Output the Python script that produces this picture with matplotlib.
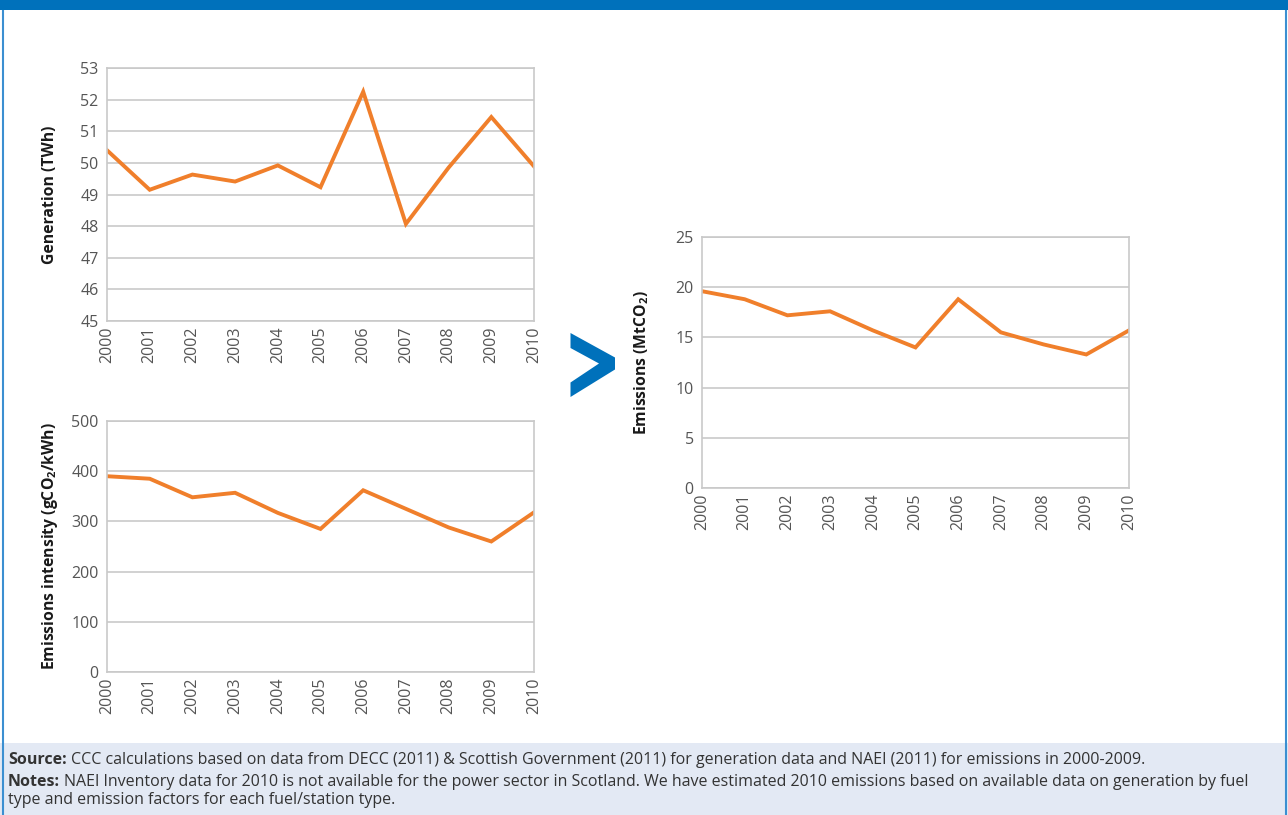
import matplotlib
matplotlib.use("Agg")
import matplotlib.pyplot as plt
from matplotlib.patches import Rectangle, Polygon

plt.rcParams['font.family'] = ['Open Sans', 'DejaVu Sans']
plt.rcParams['mathtext.fontset'] = 'custom'
plt.rcParams['mathtext.rm'] = 'Open Sans'
plt.rcParams['mathtext.bf'] = 'Open Sans:bold'

years = ['2000', '2001', '2002', '2003', '2004', '2005', '2006', '2007', '2008', '2009', '2010']
generation_twh = [50.4, 49.15, 49.63, 49.41, 49.92, 49.23, 52.25, 48.07, 49.85, 51.45, 49.89]
intensity_g_per_kwh = [390, 385, 348, 357, 317, 285, 362, 325, 288, 260, 318]
emissions_mtco2 = [19.6, 18.8, 17.2, 17.6, 15.7, 14.0, 18.8, 15.5, 14.3, 13.3, 15.7]

gen_label = 'Generation (TWh)'
int_label = r'Emissions intensity (gCO$_\mathbf{2}$/kWh)'
em_label = r'Emissions (MtCO$_\mathbf{2}$)'
source_head = 'Source:'
source_text = 'CCC calculations based on data from DECC (2011) & Scottish Government (2011) for generation data and NAEI (2011) for emissions in 2000-2009.'
notes_head = 'Notes:'
notes_text = ('NAEI Inventory data for 2010 is not available for the power sector in Scotland. '
              'We have estimated 2010 emissions based on available data on generation by fuel')
notes_text2 = 'type and emission factors for each fuel/station type.'

W, H = 1288, 815
fig = plt.figure(figsize=(W / 100, H / 100), dpi=100)
fig.patch.set_facecolor('white')

ORANGE = '#f07f2b'
GRID = '#c9c9c9'
TICK = '#555555'
BLUE = '#0071bb'
LABEL_FS = 11.3


def px_axes(left, top, right, bottom):
    return fig.add_axes([left / W, 1 - bottom / H, (right - left) / W, (bottom - top) / H])


def style(ax, ylim, yticks, label, label_x_px):
    x = list(range(len(years)))
    ax.set_xlim(0, len(years) - 1)
    ax.set_ylim(*ylim)
    ax.set_yticks(yticks)
    ax.set_xticks(x)
    ax.set_xticklabels(years, rotation=90)
    ax.grid(axis='y', color=GRID, linewidth=1.2)
    ax.set_axisbelow(True)
    for s in ax.spines.values():
        s.set_color(GRID)
        s.set_linewidth(1.2)
    ax.tick_params(axis='both', length=0, labelsize=11.5, labelcolor=TICK)
    ax.tick_params(axis='y', pad=6)
    ax.tick_params(axis='x', pad=4)
    bb = ax.get_position()
    fig.text(label_x_px / W, bb.y0 + bb.height / 2, label, rotation=90,
             ha='center', va='center', fontsize=LABEL_FS, fontweight='bold', color='#1a1a1a')


ax1 = px_axes(107, 68, 534, 321)
ax1.plot(range(len(years)), generation_twh, color=ORANGE, linewidth=2.8, solid_joinstyle='miter')
style(ax1, (45, 53), range(45, 54), gen_label, 50)

ax2 = px_axes(107, 421, 534, 672)
ax2.plot(range(len(years)), intensity_g_per_kwh, color=ORANGE, linewidth=2.8, solid_joinstyle='miter')
style(ax2, (0, 500), range(0, 501, 100), int_label, 50)

ax3 = px_axes(702, 237, 1129, 488)
ax3.plot(range(len(years)), emissions_mtco2, color=ORANGE, linewidth=2.8, solid_joinstyle='miter')
style(ax3, (0, 25), range(0, 26, 5), em_label, 642)


def P(x, y):
    return (x / W, 1 - y / H)


# banner and footer band
fig.patches.append(Rectangle(P(0, 10), 1, 10 / H, transform=fig.transFigure,
                             facecolor=BLUE, edgecolor='none', zorder=-1))
fig.patches.append(Rectangle((0, 0), 1, 72 / H, transform=fig.transFigure,
                             facecolor='#e3e9f4', edgecolor='none', zorder=-1))
for xb in (2.5, 1286):
    fig.add_artist(plt.Line2D([xb / W, xb / W], [0, 1 - 11 / H], transform=fig.transFigure,
                              color='#3b8fd1', linewidth=1.5))
chev = [P(570.5, 333), P(615, 357.5), P(615, 369.5), P(570.5, 397), P(570.5, 382.5),
        P(599, 363.5), P(570.5, 348)]
fig.patches.append(Polygon(chev, closed=True, transform=fig.transFigure,
                           facecolor=BLUE, edgecolor='none'))

fs = 11.5
TXT = '#333333'
renderer = fig.canvas.get_renderer()


def head_line(y_px, head, body):
    t = fig.text(8 / W, 1 - y_px / H, head, fontsize=fs, va='center', fontweight='bold', color=TXT)
    ext = t.get_window_extent(renderer=renderer)
    fig.text((ext.x1 + 4) / W, 1 - y_px / H, body, fontsize=fs, va='center', color=TXT)


head_line(760, source_head, source_text)
head_line(782, notes_head, notes_text)
fig.text(8 / W, 1 - 800 / H, notes_text2, fontsize=fs, va='center', color=TXT)

fig.savefig('out.png', dpi=100)
